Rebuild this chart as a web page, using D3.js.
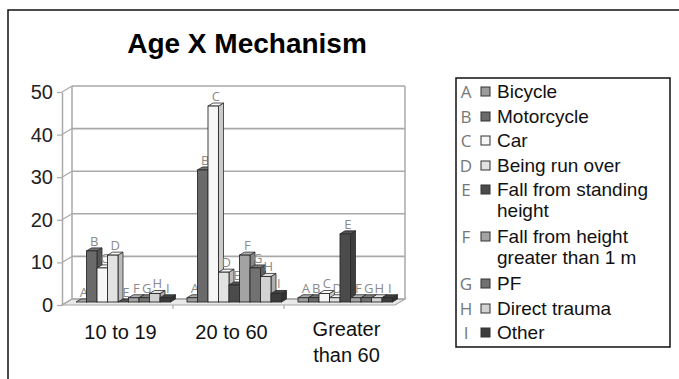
<!DOCTYPE html>
<html>
<head>
<meta charset="utf-8">
<script src="https://cdn.jsdelivr.net/npm/d3@7"></script>
<style>
  html, body { margin: 0; padding: 0; background: #fff; }
  svg { display: block; font-family: Arial, "Liberation Sans", Helvetica, sans-serif; }
</style>
</head>
<body>
<svg id="chart" width="679" height="379"></svg>
<script>
// Age groups on the x axis
const categories = ["10 to 19", "20 to 60", "Greater than 60"];
// Mechanism letters and names
const seriesKeys = ["A", "B", "C", "D", "E", "F", "G", "H", "I"];
const seriesNames = [
  "Bicycle", "Motorcycle", "Car", "Being run over",
  "Fall from standing height", "Fall from height greater than 1 m",
  "PF", "Direct trauma", "Other"
];
// Counts per mechanism, one value per age group
const valuesA = [0, 1, 1];
const valuesB = [12, 31, 1];
const valuesC = [8, 46, 2];
const valuesD = [11, 7, 1];
const valuesE = [0, 4, 16];
const valuesF = [1, 11, 1];
const valuesG = [1, 8, 1];
const valuesH = [2, 6, 1];
const valuesI = [1, 2, 1];
const seriesValues = [valuesA, valuesB, valuesC, valuesD, valuesE, valuesF, valuesG, valuesH, valuesI];
const yTicks = [0, 10, 20, 30, 40, 50];
const title = "Age X Mechanism";
// Legend lines (long names wrap)
const legendLines = [
  ["Bicycle"], ["Motorcycle"], ["Car"], ["Being run over"],
  ["Fall from standing", "height"], ["Fall from height", "greater than 1 m"],
  ["PF"], ["Direct trauma"], ["Other"]
];
// Category label lines
const categoryLines = [["10 to 19"], ["20 to 60"], ["Greater", "than 60"]];

// Grey fills for each mechanism
const palette = ["#9c9c9c", "#6a6a6a", "#f6f6f6", "#e2e2e2", "#4b4b4b", "#a3a3a3", "#727272", "#d2d2d2", "#3c3c3c"];

const svg = d3.select("#chart");

// Outer frame
svg.append("path")
  .attr("d", "M8,379 L8,10 L679,10")
  .attr("fill", "none").attr("stroke", "#111").attr("stroke-width", 1.5);

// Title
svg.append("text")
  .attr("x", 247).attr("y", 53)
  .attr("text-anchor", "middle")
  .attr("font-size", 28).attr("font-weight", "bold")
  .attr("fill", "#000")
  .text(title);

// 3D geometry: bars stand at mid depth; the back wall is shifted up/right, the front edge down/left
const depth = { dx: 5, dy: 3 };
const frontX0 = 62, frontX1 = 395;
const x0 = d3.scaleBand().domain(categories).range([frontX0 + 5, frontX1 + 5]);
const x1 = d3.scaleBand().domain(seriesKeys).range([9, 9 + 9 * 10.5]);
const y = d3.scaleLinear().domain([0, 50]).range([302, 89]);
const yBack = v => y(v) - depth.dy;
const yFront = v => y(v) + depth.dy;
const backL = frontX0 + 2 * depth.dx, backR = frontX1 + 2 * depth.dx;

const walls = svg.append("g");
// Floor
walls.append("path")
  .attr("d", `M${frontX0},${yFront(0)} L${frontX1},${yFront(0)} L${backR},${yBack(0)} L${backL},${yBack(0)} Z`)
  .attr("fill", "#e9e9e9").attr("stroke", "#a8a8a8").attr("stroke-width", 1.2);

// Gridlines on back wall and side wall
yTicks.forEach(t => {
  walls.append("line")
    .attr("x1", backL).attr("x2", backR)
    .attr("y1", yBack(t)).attr("y2", yBack(t))
    .attr("stroke", "#a9a9a9").attr("stroke-width", 1.6);
  walls.append("line")
    .attr("x1", frontX0).attr("x2", backL)
    .attr("y1", yFront(t)).attr("y2", yBack(t))
    .attr("stroke", "#a9a9a9").attr("stroke-width", 1.2);
});
// Wall edges
walls.append("line").attr("x1", backL).attr("x2", backL).attr("y1", yBack(50)).attr("y2", yBack(0))
  .attr("stroke", "#a9a9a9").attr("stroke-width", 1.5);
walls.append("line").attr("x1", backR).attr("x2", backR).attr("y1", yBack(50)).attr("y2", yBack(0))
  .attr("stroke", "#a9a9a9").attr("stroke-width", 1.5);

// Y axis on the front edge
const yAxisScale = d3.scaleLinear().domain([0, 50]).range([yFront(0), yFront(50)]);
const yAxis = svg.append("g")
  .attr("transform", `translate(${frontX0},0)`)
  .call(d3.axisLeft(yAxisScale).tickValues(yTicks).tickSize(5).tickPadding(4).tickSizeOuter(0));
yAxis.select(".domain").attr("stroke", "#a9a9a9").attr("stroke-width", 1.5);
yAxis.selectAll(".tick line").attr("stroke", "#a9a9a9").attr("stroke-width", 1.2);
yAxis.selectAll(".tick text")
  .attr("font-size", 20).attr("fill", "#222")
  .attr("font-family", "Arial, 'Liberation Sans', sans-serif");

// Category boundary ticks under the floor
categories.forEach((c, i) => {
  if (i === 0) return;
  const xx = x0(c) - 5;
  svg.append("line").attr("x1", xx).attr("x2", xx)
    .attr("y1", yFront(0)).attr("y2", yFront(0) + 4)
    .attr("stroke", "#a9a9a9").attr("stroke-width", 1.2);
});

// Category labels
const catG = svg.append("g");
categories.forEach((c, i) => {
  const lines = categoryLines[i];
  const cx = x0(c) + x0.bandwidth() / 2 + (lines.length > 1 ? 2 : -2);
  const t = catG.append("text")
    .attr("x", cx)
    .attr("y", lines.length > 1 ? 336 : 339)
    .attr("text-anchor", "middle")
    .attr("font-size", 20).attr("fill", "#111");
  lines.forEach((w, k) => {
    t.append("tspan").attr("x", cx).attr("dy", k === 0 ? 0 : 26).text(w);
  });
});

// 3D columns
const bw = x1.bandwidth();
const bars = [];
categories.forEach((c, ci) => {
  seriesKeys.forEach((k, si) => {
    bars.push({ cat: c, key: k, si, value: seriesValues[si][ci] });
  });
});

const shade = (col, f) => {
  const c = d3.color(col);
  return f < 1 ? c.darker(1 - f).formatHex() : c.brighter(f - 1).formatHex();
};

const barG = svg.append("g").selectAll("g").data(bars).join("g");
barG.each(function (d) {
  const g = d3.select(this);
  const x = x0(d.cat) + x1(d.key);
  const yt = y(d.value), yb = y(0);
  const { dx, dy } = depth;
  const fill = palette[d.si];
  // side face
  g.append("path")
    .attr("d", `M${x + bw},${yt} L${x + bw + dx},${yt - dy} L${x + bw + dx},${yb - dy} L${x + bw},${yb} Z`)
    .attr("fill", shade(fill, 0.45)).attr("stroke", "#2a2a2a").attr("stroke-width", 0.8);
  // top face
  g.append("path")
    .attr("d", `M${x},${yt} L${x + dx},${yt - dy} L${x + bw + dx},${yt - dy} L${x + bw},${yt} Z`)
    .attr("fill", shade(fill, 1.25)).attr("stroke", "#2a2a2a").attr("stroke-width", 0.8);
  // front face
  g.append("rect")
    .attr("x", x).attr("y", yt)
    .attr("width", bw).attr("height", Math.max(0, yb - yt))
    .attr("fill", fill).attr("stroke", "#2a2a2a").attr("stroke-width", 0.9);
  // letter above column
  g.append("text")
    .attr("x", x + (bw + dx) / 2)
    .attr("y", yt - dy - 2)
    .attr("text-anchor", "middle")
    .attr("font-size", 13)
    .attr("font-family", "'Open Sans', 'DejaVu Sans', sans-serif")
    .attr("fill", "#8a8a8a")
    .text(d.key);
});

// Legend
const lg = svg.append("g");
lg.append("rect")
  .attr("x", 456).attr("y", 78).attr("width", 214).attr("height", 269)
  .attr("fill", "#fff").attr("stroke", "#111").attr("stroke-width", 1.5);
const rowBase = [98, 123, 147, 172, 196, 243, 290, 315, 339];
seriesKeys.forEach((k, i) => {
  const by = rowBase[i];
  lg.append("text")
    .attr("x", 466).attr("y", by).attr("text-anchor", "middle")
    .attr("font-size", 17).attr("fill", "#777")
    .attr("font-family", "'Open Sans', 'DejaVu Sans', sans-serif")
    .text(k);
  lg.append("rect")
    .attr("x", 481).attr("y", by - 11).attr("width", 9).attr("height", 9)
    .attr("fill", palette[i]).attr("stroke", "#333").attr("stroke-width", 1);
  legendLines[i].forEach((line, j) => {
    lg.append("text")
      .attr("x", 497).attr("y", by + j * 21)
      .attr("font-size", 19).attr("fill", "#111")
      .text(line);
  });
});
</script>
</body>
</html>
